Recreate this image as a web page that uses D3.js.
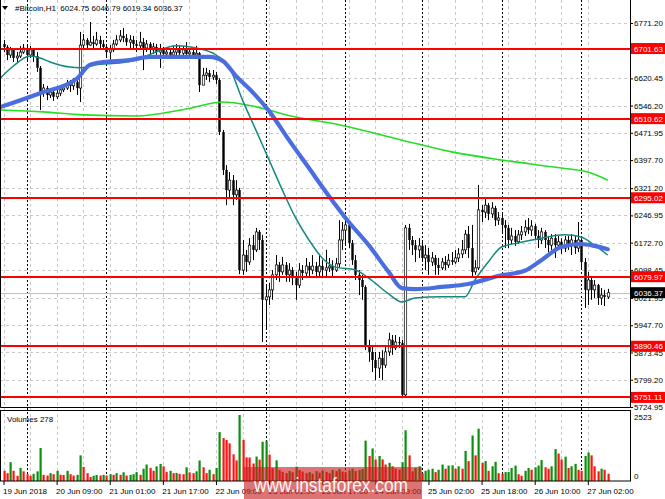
<!DOCTYPE html>
<html>
<head>
<meta charset="utf-8">
<script src="https://cdn.jsdelivr.net/npm/d3@7"></script>
<style>
  html, body { margin: 0; padding: 0; background: #fff; }
  svg { display: block; }
</style>
</head>
<body>
<svg id="chart" width="665" height="499"></svg>
<script>
// ---- data (Bitcoin H1, 19 Jun 17:00 .. 27 Jun) ----
const symbol = '#Bitcoin,H1';
const firstOpen = 6714;

const closes = [
  6706,6684,6698,6676,6681,6692,6703,6684,6698,6681,
  6649,6583,6594,6575,6583,6570,6580,6589,6594,6605,
  6600,6610,6594,6711,6725,6711,6719,6714,6725,6714,
  6706,6692,6698,6714,6725,6736,6730,6719,6725,6714,
  6709,6719,6703,6714,6698,6706,6692,6698,6687,6692,
  6684,6692,6698,6689,6698,6687,6692,6684,6689,6602,
  6629,6635,6624,6629,6616,6474,6371,6316,6343,6303,
  6316,6098,6139,6120,6166,6153,6202,6180,6017,6025,
  6044,6085,6112,6093,6112,6085,6098,6076,6057,6098,
  6090,6109,6098,6109,6093,6109,6098,6104,6109,6098,
  6115,6180,6207,6221,6172,6125,6085,6071,6052,5894,
  5875,5853,5831,5858,5839,5875,5908,5886,5902,5899,
  5758,6213,6180,6166,6153,6164,6131,6139,6120,6131,
  6112,6104,6120,6112,6125,6120,6131,6142,6153,6196,
  6158,6093,6104,6262,6256,6275,6251,6267,6234,6240,
  6221,6213,6180,6191,6175,6194,6202,6215,6207,6218,
  6191,6180,6202,6180,6166,6185,6166,6175,6158,6180,
  6169,6180,6158,6180,6120,6044,6071,6044,6057,6022,
  6030,6024.75,6036.37
];

const highs = [
  6725,6711,6706,6700,6692,6709,6714,6711,6709,6703,
  6692,6654,6605,6600,6594,6589,6594,6600,6605,6616,
  6616,6621,6616,6747,6741,6730,6774,6736,6747,6736,
  6725,6714,6711,6725,6738,6752,6758,6741,6738,6736,
  6725,6747,6730,6725,6719,6717,6714,6714,6706,6703,
  6700,6709,6714,6711,6709,6719,6703,6703,6709,6692,
  6649,6649,6643,6643,6638,6621,6480,6384,6365,6357,
  6343,6322,6180,6153,6185,6194,6213,6207,6194,6057,
  6063,6098,6139,6120,6134,6120,6117,6106,6093,6117,
  6112,6131,6120,6139,6120,6142,6125,6153,6131,6125,
  6131,6234,6229,6243,6229,6180,6139,6098,6085,6057,
  5908,5894,5875,5875,5880,5894,5927,5921,5921,5916,
  5908,6221,6224,6191,6180,6185,6180,6166,6158,6147,
  6139,6131,6131,6136,6142,6147,6153,6158,6180,6207,
  6218,6221,6125,6330,6275,6294,6281,6283,6273,6256,
  6251,6234,6221,6213,6207,6207,6218,6234,6240,6234,
  6224,6207,6213,6207,6191,6196,6196,6191,6185,6191,
  6191,6196,6191,6229,6185,6131,6093,6082,6071,6060,
  6049,6044,6046.79
];

const lows = [
  6692,6670,6676,6665,6665,6676,6687,6670,6676,6665,
  6638,6534,6570,6561,6567,6559,6564,6572,6583,6589,
  6583,6589,6575,6556,6698,6703,6709,6703,6709,6703,
  6698,6676,6670,6692,6709,6719,6719,6709,6703,6703,
  6692,6698,6643,6692,6684,6687,6681,6649,6676,6679,
  6673,6676,6681,6681,6679,6676,6679,6676,6676,6583,
  6602,6616,6610,6616,6605,6466,6357,6275,6294,6275,
  6289,6087,6085,6093,6112,6125,6147,6153,5902,5935,
  6003,6017,6071,6066,6085,6066,6066,6057,6017,6049,
  6071,6076,6082,6087,6076,6082,6082,6082,6093,6082,
  6093,6104,6153,6166,6158,6112,6071,6030,6017,5880,
  5848,5820,5798,5804,5798,5831,5864,5867,5880,5886,
  5752,5752,6153,6139,6120,6131,6120,6098,6085,6109,
  6085,6085,6098,6098,6104,6112,6115,6120,6131,6142,
  6131,6082,6085,6098,6229,6240,6234,6240,6218,6221,
  6202,6158,6158,6169,6164,6169,6180,6191,6196,6191,
  6180,6158,6169,6158,6147,6153,6131,6153,6142,6147,
  6153,6139,6142,6147,6104,5995,6003,6017,6022,6003,
  6003,6000,6019.34
];

const volumes = [
  390,300,720,390,200,500,370,260,200,275,
  370,1260,235,210,300,260,390,240,230,390,
  260,210,235,980,540,300,150,200,230,210,
  235,210,260,235,300,235,330,210,235,260,
  340,235,470,630,500,390,560,655,560,350,
  390,300,310,275,260,525,330,300,370,785,
  525,300,430,260,500,1870,1640,1570,1440,1020,
  785,2523,1570,905,900,670,935,815,1500,1540,
  1010,485,790,420,350,300,380,330,550,420,
  360,300,340,280,380,320,400,350,300,420,
  380,460,360,320,400,470,380,420,460,1545,
  956,1245,825,956,825,630,695,563,470,430,
  720,1940,980,370,500,563,300,390,430,470,
  340,430,630,470,590,600,470,563,470,1150,
  760,1740,980,2000,695,760,390,563,735,300,
  275,340,345,500,590,260,200,390,500,430,
  525,590,800,525,470,563,1220,1050,825,930,
  500,563,655,430,390,956,1090,980,563,370,
  470,430,278
];

// moving averages at these bar indices
const blueIdx = [-1, 11, 22, 26, 30, 38, 44, 55, 62, 66, 70, 75, 80, 86, 92, 98, 104, 110, 116, 120, 124, 132, 140, 149, 157, 162, 168, 174, 178, 182];
const blueVal = [6542, 6580, 6619, 6657, 6665, 6670, 6679, 6679, 6679, 6668, 6627, 6583, 6531, 6452, 6376, 6300, 6229, 6166, 6093, 6049, 6046, 6052, 6060, 6082, 6096, 6125, 6161, 6169, 6164, 6155];

const tealIdx = [-1, 3, 8, 11, 14, 20, 23, 29, 35, 40, 45, 52, 58, 64, 68, 72, 76, 80, 84, 88, 92, 96, 100, 106, 110, 116, 120, 124, 132, 139, 142, 146, 150, 155, 162, 169, 174, 178, 182];
const tealVal = [6621, 6654, 6681, 6676, 6665, 6651, 6649, 6659, 6662, 6670, 6689, 6709, 6703, 6684, 6651, 6561, 6480, 6398, 6316, 6240, 6180, 6131, 6106, 6098, 6076, 6033, 6011, 6022, 6025, 6025, 6071, 6120, 6161, 6172, 6185, 6194, 6188, 6166, 6139];

const greenIdx = [-1, 12, 24, 40, 55, 66, 75, 88, 100, 120, 135, 150, 168, 176, 182];
const greenVal = [6534, 6529, 6521, 6518, 6537, 6556, 6545, 6515, 6496, 6452, 6420, 6398, 6376, 6365, 6343];

// horizontal levels
const levels = [6701.63, 6510.62, 6295.02, 6079.97, 5890.46, 5751.11];

// axis ticks
const priceTicks = [6771.20, 6620.45, 6546.20, 6471.95, 6397.70, 6321.20, 6246.95, 6172.70, 6098.45, 6021.95, 5947.70, 5873.45, 5799.20, 5724.95];
const volTicks = [2523, 0];
const dateIdx = [0, 16, 32, 48, 64, 80, 96, 112, 128, 144, 160, 176];
const dateLabels = ['19 Jun 2018', '20 Jun 09:00', '21 Jun 01:00', '21 Jun 17:00', '22 Jun 09:00', '23 Jun 01:00',
  '23 Jun 17:00', '24 Jun 09:00', '25 Jun 02:00', '25 Jun 18:00', '26 Jun 10:00', '27 Jun 02:00'];
const daySepIdx = [7, 31, 79, 103, 126, 150, 174];

// ---- layout ----
const font = '"Liberation Sans", Arial, sans-serif';
const plotRight = 630;
const priceBottom = 408;
const volTop = 411, volBottom = 481;
const n = closes.length;
const opens = closes.map((c, i) => i === 0 ? firstOpen : closes[i - 1]);
const fmt = d3.format('.2f');

const svg = d3.select('#chart').attr('font-family', font);

const x = d3.scaleLinear().domain([0, n - 1]).range([3.5, 3.5 + 3.32 * (n - 1)]);
const y = d3.scaleLinear().domain([5724.95, 6771.20]).range([407, 23]);
const yv = d3.scaleLinear().domain([0, 2523]).range([volBottom, 415]);

svg.append('defs').append('clipPath').attr('id', 'priceClip')
  .append('rect').attr('x', 0).attr('y', 0).attr('width', plotRight).attr('height', priceBottom);

// grid
const grid = svg.append('g');
grid.selectAll('line.h')
  .data(priceTicks)
  .join('line')
  .attr('x1', 0).attr('x2', plotRight)
  .attr('y1', d => Math.round(y(d)) + 0.5).attr('y2', d => Math.round(y(d)) + 0.5)
  .attr('stroke', '#c8c8c8').attr('stroke-dasharray', '3,3');

grid.selectAll('line.v')
  .data(d3.range(0, n + 1, 8))
  .join('line')
  .attr('x1', d => Math.round(x(d)) + 0.5).attr('x2', d => Math.round(x(d)) + 0.5)
  .attr('y1', 0).attr('y2', volBottom)
  .attr('stroke', '#c8c8c8').attr('stroke-dasharray', '3,3');

grid.selectAll('line.day')
  .data(daySepIdx)
  .join('line')
  .attr('x1', d => Math.round(x(d)) + 0.5).attr('x2', d => Math.round(x(d)) + 0.5)
  .attr('y1', 0).attr('y2', volBottom)
  .attr('stroke', '#000').attr('stroke-dasharray', '2,2');

// current price line
const last = closes[n - 1];
svg.append('line')
  .attr('x1', 0).attr('x2', plotRight)
  .attr('y1', Math.round(y(last)) + 0.5).attr('y2', Math.round(y(last)) + 0.5)
  .attr('stroke', '#c0c0c0');

// candles
const price = svg.append('g').attr('clip-path', 'url(#priceClip)');
const candles = price.selectAll('g.c')
  .data(closes.map((c, i) => ({ i, o: opens[i], h: highs[i], l: lows[i], c })))
  .join('g');

candles.append('line')
  .attr('x1', d => Math.round(x(d.i)) + 0.5).attr('x2', d => Math.round(x(d.i)) + 0.5)
  .attr('y1', d => y(d.h)).attr('y2', d => y(d.l))
  .attr('stroke', '#000').attr('stroke-width', 1);

candles.append('rect')
  .attr('x', d => Math.round(x(d.i)) - 0.7)
  .attr('width', 2.4)
  .attr('y', d => y(Math.max(d.o, d.c)))
  .attr('height', d => Math.max(1, Math.abs(y(d.o) - y(d.c))))
  .attr('fill', d => d.c >= d.o ? '#fff' : '#000')
  .attr('stroke', '#000').attr('stroke-width', d => d.c >= d.o ? 0.7 : 0);

// moving averages
const maLine = d3.line().x(d => x(d[0])).y(d => y(d[1])).curve(d3.curveMonotoneX);
price.append('path').datum(d3.zip(greenIdx, greenVal))
  .attr('d', maLine).attr('fill', 'none').attr('stroke', '#22e022').attr('stroke-width', 1.6);
price.append('path').datum(d3.zip(tealIdx, tealVal))
  .attr('d', maLine).attr('fill', 'none').attr('stroke', '#12897f').attr('stroke-width', 1.5);
price.append('path').datum(d3.zip(blueIdx, blueVal))
  .attr('d', maLine).attr('fill', 'none').attr('stroke', '#4a6ee0').attr('stroke-width', 4.2)
  .attr('stroke-linecap', 'round');

// red levels
svg.selectAll('line.lvl')
  .data(levels)
  .join('line')
  .attr('x1', 0).attr('x2', plotRight)
  .attr('y1', d => Math.round(y(d))).attr('y2', d => Math.round(y(d)))
  .attr('stroke', '#ff0000').attr('stroke-width', 2);

// volumes
svg.append('g').selectAll('rect')
  .data(volumes)
  .join('rect')
  .attr('x', (d, i) => Math.round(x(i)) - 0.5)
  .attr('width', 2.2)
  .attr('y', d => yv(d))
  .attr('height', d => volBottom - yv(d))
  .attr('fill', (d, i) => i > 0 && d > volumes[i - 1] ? '#0c8f0c' : '#ff1414');

// frames (price pane has no top edge, the window is cut there)
svg.append('path')
  .attr('d', `M0.5,0 V${priceBottom - 0.5} H${plotRight + 0.5} V0`)
  .attr('fill', 'none').attr('stroke', '#000');
svg.append('rect').attr('x', 0.5).attr('y', volTop - 0.5).attr('width', plotRight).attr('height', volBottom - volTop + 0.5)
  .attr('fill', 'none').attr('stroke', '#000');

// price axis
svg.append('g')
  .attr('transform', `translate(${plotRight},0)`)
  .call(d3.axisRight(y).tickValues(priceTicks).tickSize(3).tickFormat(fmt))
  .call(g => g.select('.domain').remove())
  .call(g => g.attr('font-size', 8).attr('font-family', font))
  .call(g => g.selectAll('text').attr('x', 4).attr('fill', '#000'));

// level labels
const tags = svg.append('g').attr('font-size', 8);
tags.selectAll('rect.lv')
  .data(levels)
  .join('rect')
  .attr('x', plotRight + 1).attr('width', 35)
  .attr('y', d => y(d) - 5.5).attr('height', 11)
  .attr('fill', '#ff0000');
tags.selectAll('text.lv')
  .data(levels)
  .join('text')
  .attr('x', plotRight + 4).attr('y', d => y(d) + 3)
  .attr('fill', '#fff')
  .text(fmt);
tags.append('rect')
  .attr('x', plotRight + 1).attr('width', 35)
  .attr('y', y(last) - 5.5).attr('height', 11)
  .attr('fill', '#000');
tags.append('text')
  .attr('x', plotRight + 4).attr('y', y(last) + 3)
  .attr('fill', '#fff')
  .text(fmt(last));

// volume axis labels
svg.append('g').attr('font-size', 8)
  .selectAll('text')
  .data(volTicks)
  .join('text')
  .attr('x', plotRight + 4)
  .attr('y', d => d === 0 ? yv(d) - 2 : yv(d) + 5)
  .text(d => d);

svg.append('text')
  .attr('x', 7).attr('y', 422)
  .attr('font-size', 8)
  .text(`Volumes ${volumes[n - 1]}`);

// date axis
svg.append('g')
  .attr('transform', `translate(0,${volBottom})`)
  .call(d3.axisBottom(x).tickValues(dateIdx).tickSize(4).tickFormat((d, k) => dateLabels[k]))
  .call(g => g.select('.domain').remove())
  .call(g => g.attr('font-size', 8).attr('font-family', font))
  .call(g => g.selectAll('text').attr('text-anchor', 'start').attr('x', -1).attr('fill', '#000'));

// header
svg.append('path').attr('d', 'M2,6 L8,6 L5,10 Z').attr('fill', '#000');
svg.append('text')
  .attr('x', 15).attr('y', 11)
  .attr('font-size', 8)
  .attr('xml:space', 'preserve')
  .text(`${symbol}  ${fmt(opens[n - 1])} ${fmt(highs[n - 1])} ${fmt(lows[n - 1])} ${fmt(closes[n - 1])}`);

// watermark
svg.append('rect')
  .attr('x', 244).attr('y', 467).attr('width', 178).attr('height', 32)
  .attr('fill', '#c81e1e').attr('opacity', 0.62);
svg.append('text')
  .attr('x', 254).attr('y', 492)
  .attr('font-size', 20)
  .attr('textLength', 154).attr('lengthAdjust', 'spacingAndGlyphs')
  .attr('fill', '#fff').attr('opacity', 0.95)
  .text('www.instaforex.com');
</script>
</body>
</html>
